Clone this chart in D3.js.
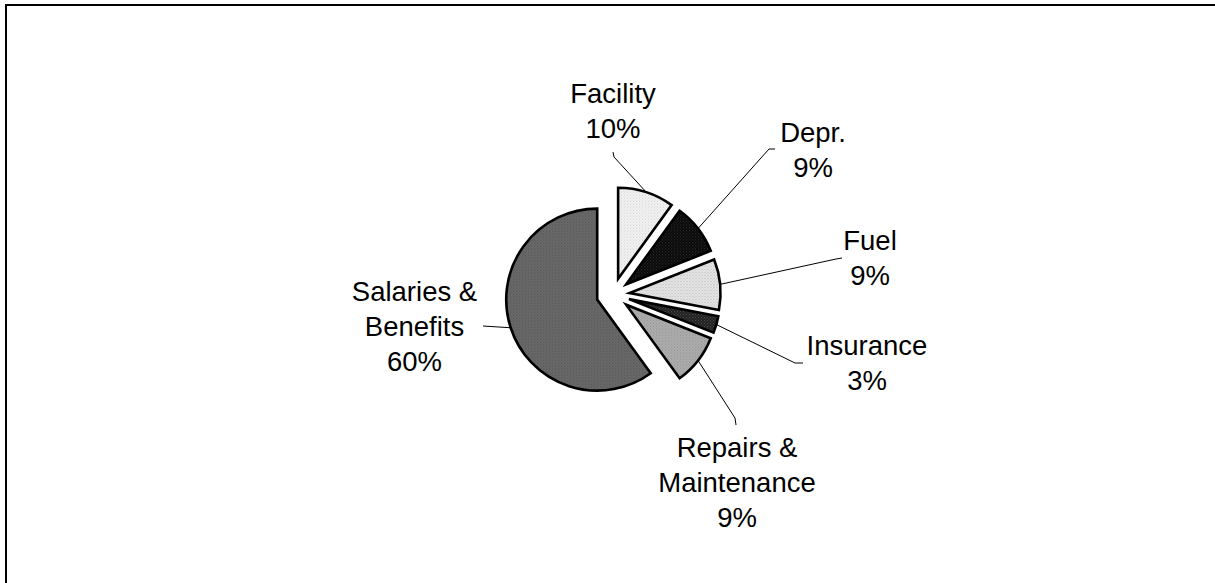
<!DOCTYPE html>
<html><head><meta charset="utf-8">
<script src="https://cdn.jsdelivr.net/npm/d3@7"></script>
<style>body{margin:0;background:#fff;overflow:hidden} svg{display:block}</style>
</head><body>
<script>
// ---- data ----
const categories = ["Facility", "Depr.", "Fuel", "Insurance", "Repairs & Maintenance", "Salaries & Benefits"];
const labelLines = [["Facility"], ["Depr."], ["Fuel"], ["Insurance"], ["Repairs &", "Maintenance"], ["Salaries &", "Benefits"]];
const values = [10, 9, 9, 3, 9, 60];
const pctLabels = ["10%", "9%", "9%", "3%", "9%", "60%"];

// ---- layout / style (not data) ----
const W = 1215, H = 583;
const center = [613, 294.5];
const R = 91, explode = 16.6;
const fills = [
  {base: "#f6f6f6", dot: "#c8c8c8"},
  {base: "#050505", dot: "#3a3a3a"},
  {base: "#e8e8e8", dot: "#b4b4b4"},
  {base: "#1e1e1e", dot: "#555555"},
  {base: "#b0b0b0", dot: "#8a8a8a"},
  {base: "#6c6c6c", dot: "#4a4a4a"}
];
// label anchor: centre x, first baseline y; leader path points from label side
const labelPos = [
  {x: 613, y: 103, leader: [[614, 157], [613, 152]]},
  {x: 813, y: 142, leader: [[769, 149], [775, 149]]},
  {x: 870, y: 250, leader: [[836, 259], [842, 258]]},
  {x: 867, y: 355, leader: [[795, 363], [803, 363]]},
  {x: 737, y: 457, leader: [[735, 418], [736, 425]]},
  {x: 414.5, y: 301, leader: [[483, 326]]}
];
const lineH = 35, fontSize = 27.5;

const svg = d3.select("body").append("svg").attr("width", W).attr("height", H);
const defs = svg.append("defs");
fills.forEach((f, i) => {
  const p = defs.append("pattern").attr("id", "pat" + i).attr("patternUnits", "userSpaceOnUse")
    .attr("width", 3).attr("height", 3);
  p.append("rect").attr("width", 3).attr("height", 3).attr("fill", f.base);
  p.append("rect").attr("x", 0).attr("y", 0).attr("width", 1).attr("height", 1).attr("fill", f.dot);
  p.append("rect").attr("x", 1.5).attr("y", 1.5).attr("width", 1).attr("height", 1).attr("fill", f.dot);
});

// border
svg.append("rect").attr("x", 6).attr("y", 5).attr("width", W + 20).attr("height", H + 20)
  .attr("fill", "none").attr("stroke", "#000").attr("stroke-width", 2);

const pie = d3.pie().sort(null).value(d => d).startAngle(0).endAngle(2 * Math.PI);
const arcs = pie(values);
const arc = d3.arc().innerRadius(0).outerRadius(R);

const g = svg.append("g").attr("transform", `translate(${center[0]},${center[1]})`);

arcs.forEach((a, i) => {
  const mid = (a.startAngle + a.endAngle) / 2;
  const dx = explode * Math.sin(mid), dy = -explode * Math.cos(mid);
  g.append("path").attr("d", arc(a))
    .attr("transform", `translate(${dx},${dy})`)
    .attr("fill", `url(#pat${i})`)
    .attr("stroke", "#000").attr("stroke-width", 2.6).attr("stroke-linejoin", "miter");
});

// leader lines
arcs.forEach((a, i) => {
  const mid = (a.startAngle + a.endAngle) / 2;
  const rr = R + explode;
  const sx = center[0] + rr * Math.sin(mid), sy = center[1] - rr * Math.cos(mid);
  const pts = [[sx, sy]].concat(labelPos[i].leader);
  svg.append("path").attr("d", d3.line()(pts)).attr("fill", "none")
    .attr("stroke", "#000").attr("stroke-width", 1);
});

// labels
arcs.forEach((a, i) => {
  const lines = labelLines[i].concat([pctLabels[i]]);
  const t = svg.append("text").attr("text-anchor", "middle")
    .attr("font-family", "Liberation Sans, Arial, sans-serif").attr("font-size", fontSize)
    .attr("fill", "#000");
  lines.forEach((s, k) => {
    t.append("tspan").attr("x", labelPos[i].x).attr("y", labelPos[i].y + k * lineH).text(s);
  });
});
</script>
</body></html>
